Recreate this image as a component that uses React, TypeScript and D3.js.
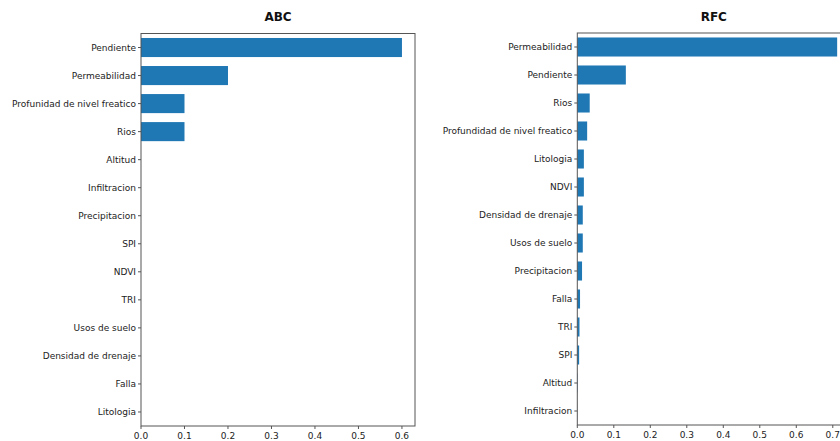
import React from "react";
import * as d3 from "d3";

const abcLabels = [
  "Pendiente", "Permeabilidad", "Profunidad de nivel freatico", "Rios", "Altitud",
  "Infiltracion", "Precipitacion", "SPI", "NDVI", "TRI", "Usos de suelo",
  "Densidad de drenaje", "Falla", "Litologia",
];
const abcValues = [0.6, 0.2, 0.1, 0.1, 0, 0, 0, 0, 0, 0, 0, 0, 0, 0];

const rfcLabels = [
  "Permeabilidad", "Pendiente", "Rios", "Profundidad de nivel freatico", "Litologia",
  "NDVI", "Densidad de drenaje", "Usos de suelo", "Precipitacion", "Falla", "TRI",
  "SPI", "Altitud", "Infiltracion",
];
const rfcValues = [0.712, 0.133, 0.034, 0.027, 0.018, 0.018, 0.015, 0.015, 0.013, 0.0075, 0.006, 0.005, 0.001, 0.0003];

const abcTicks = [0, 0.1, 0.2, 0.3, 0.4, 0.5, 0.6];
const rfcTicks = [0, 0.1, 0.2, 0.3, 0.4, 0.5, 0.6, 0.7];

const BAR = "#1f77b4";
const SPINE = "#555";
const TEXT = "#222";
const FONT = "DejaVu Sans, sans-serif";

type PanelProps = {
  title: string;
  labels: string[];
  values: number[];
  ticks: number[];
  left: number;
  right: number;
  top: number;
  bottom: number;
  xMax: number;
};

function Panel({ title, labels, values, ticks, left, right, top, bottom, xMax }: PanelProps) {
  const x = d3.scaleLinear().domain([0, xMax]).range([left, right]);
  const y = d3.scaleBand<string>().domain(labels).range([top, bottom]).paddingInner(0.32).paddingOuter(0.16);
  const bw = y.bandwidth();
  return (
    <g>
      <text x={(left + right) / 2} y={21} textAnchor="middle" fontFamily={FONT} fontWeight="bold" fontSize={12} fill="#111">
        {title}
      </text>
      {labels.map((l, i) => (
        <rect key={l} x={x(0)} y={y(l)!} width={Math.max(0, x(values[i]) - x(0))} height={bw} fill={BAR} />
      ))}
      <rect x={left} y={top} width={right - left} height={bottom - top} fill="none" stroke={SPINE} strokeWidth={1} />
      {labels.map((l) => {
        const cy = y(l)! + bw / 2;
        return (
          <g key={"t" + l}>
            <line x1={left - 3} x2={left} y1={cy} y2={cy} stroke={SPINE} />
            <text x={left - 5} y={cy} dy="0.35em" textAnchor="end" fontFamily={FONT} fontSize={9} fill={TEXT}>
              {l}
            </text>
          </g>
        );
      })}
      {ticks.map((t) => (
        <g key={"x" + t}>
          <line x1={x(t)} x2={x(t)} y1={bottom} y2={bottom + 3} stroke={SPINE} />
          <text x={x(t)} y={bottom + 13} textAnchor="middle" fontFamily={FONT} fontSize={9} fill={TEXT}>
            {d3.format(".1f")(t)}
          </text>
        </g>
      ))}
    </g>
  );
}

export default function App() {
  return (
    <svg width={840} height={441} style={{ position: "absolute", left: 0, top: 0, background: "#fff" }}>
      <rect width={840} height={441} fill="#fff" />
      <Panel title="ABC" labels={abcLabels} values={abcValues} ticks={abcTicks}
        left={141} right={415} top={33.5} bottom={426} xMax={0.63} />
      <Panel title="RFC" labels={rfcLabels} values={rfcValues} ticks={rfcTicks}
        left={577.3} right={850.3} top={33} bottom={425} xMax={0.748} />
    </svg>
  );
}
